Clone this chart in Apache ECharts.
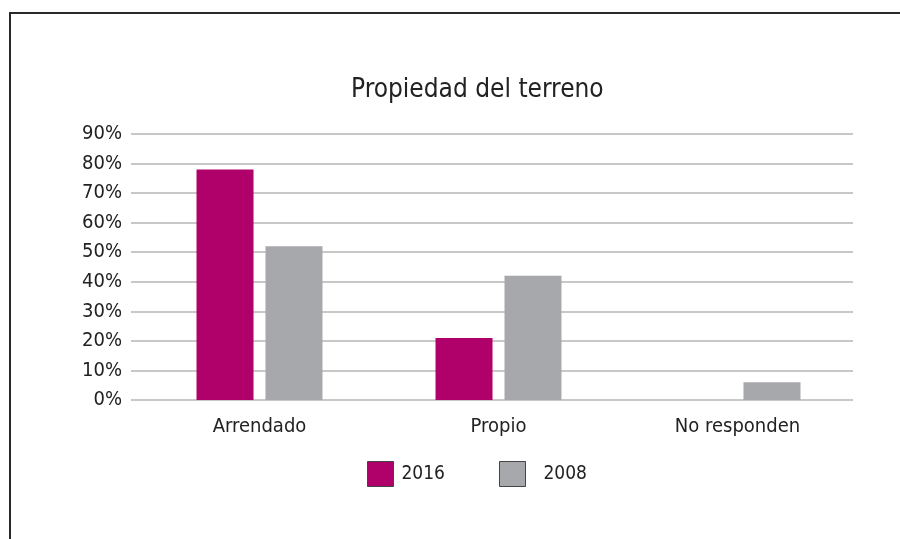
<!DOCTYPE html>
<html lang="es">
  <head>
    <meta charset="utf-8" />
    <title>Propiedad del terreno</title>
    <script src="https://cdn.jsdelivr.net/npm/echarts@6.0.0/dist/echarts.min.js"></script>
    <style>
      html, body { margin: 0; padding: 0; background: #fff; }
      #frame {
        position: absolute; left: 9px; top: 12px; width: 900px; height: 540px;
        border-left: 2px solid #2a2a2a; border-top: 2px solid #2a2a2a;
      }
      #main { position: absolute; left: 0; top: 0; width: 900px; height: 539px; }
    </style>
  </head>
  <body>
    <div id="frame"></div>
    <div id="main"></div>
    <script>
      var categories = ["Arrendado", "Propio", "No responden"];
      var values2016 = [78, 21, 0];
      var values2008 = [52, 42, 6];
      var yTicks = [0, 10, 20, 30, 40, 50, 60, 70, 80, 90];

      var font = "'DejaVu Sans Condensed', 'Liberation Sans', Arial, sans-serif";
      var chart = echarts.init(document.getElementById("main"));

      chart.setOption({
        animation: false,
        title: {
          text: "Propiedad del terreno",
          left: 351,
          top: 77,
          padding: 0,
          textStyle: { fontFamily: font, fontSize: 26, fontWeight: "normal", color: "#222" }
        },
        legend: {
          left: 367,
          top: 461,
          padding: 0,
          itemWidth: 26,
          itemHeight: 25,
          itemGap: 54,
          icon: "rect",
          textStyle: { fontFamily: font, fontSize: 19, color: "#222", padding: [0, 0, 0, 3] },
          itemStyle: { borderColor: "#444", borderWidth: 1 },
          data: [
            { name: "2016" },
            { name: "2008", textStyle: { padding: [0, 0, 0, 13] } }
          ]
        },
        // grid 0: gridlines and y labels; grid 1: bars and categories
        grid: [
          { left: 131, right: 47, top: 134, bottom: 139 },
          { left: 140, right: 43, top: 134, bottom: 139 }
        ],
        xAxis: [
          { type: "category", gridIndex: 0, data: categories, show: false },
          {
            type: "category",
            gridIndex: 1,
            data: categories,
            axisLine: { show: false },
            axisTick: { show: false },
            axisLabel: { fontFamily: font, fontSize: 20, color: "#222", margin: 17 }
          }
        ],
        yAxis: [
          {
            type: "value",
            gridIndex: 0,
            min: yTicks[0],
            max: yTicks[yTicks.length - 1],
            interval: 10,
            axisLine: { show: false },
            axisTick: { show: false },
            splitLine: { lineStyle: { color: "#c8c8c8", width: 2 } },
            axisLabel: { fontFamily: font, fontSize: 20, color: "#222", margin: 9, formatter: "{value}%" }
          },
          {
            type: "value",
            gridIndex: 1,
            min: yTicks[0],
            max: yTicks[yTicks.length - 1],
            interval: 10,
            show: false
          }
        ],
        series: [
          {
            name: "2016",
            type: "bar",
            xAxisIndex: 1,
            yAxisIndex: 1,
            data: values2016,
            barWidth: 57,
            barGap: "21%",
            itemStyle: { color: "#b0006a" }
          },
          {
            name: "2008",
            type: "bar",
            xAxisIndex: 1,
            yAxisIndex: 1,
            data: values2008,
            barWidth: 57,
            itemStyle: { color: "#a7a8ac" }
          }
        ]
      });
    </script>
  </body>
</html>
